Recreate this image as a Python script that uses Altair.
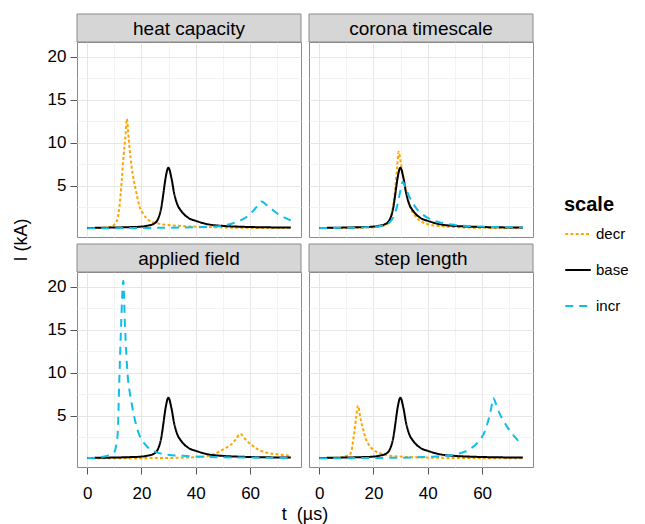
import altair as alt
import pandas as pd

# ---------------- data ----------------
panels = ["heat capacity", "corona timescale", "applied field", "step length"]
panel_row = [0, 0, 1, 1]
panel_col = [0, 1, 0, 1]
scales = ["decr", "base", "incr"]

# base run (same in every panel)
base_t = [0, 5, 10, 15, 20, 22.5, 24.7, 26, 26.5, 27.4, 28.1, 28.9, 29.9, 31, 32, 33.2, 34.5, 35.7, 37.5, 40, 42.5, 45, 50, 55, 60, 65, 70, 75]
base_I = [0.12, 0.14, 0.17, 0.21, 0.28, 0.4, 0.64, 1.1, 1.5, 2.66, 4.2, 5.97, 7.13, 5.97, 4.2, 2.86, 2.15, 1.7, 1.25, 0.95, 0.7, 0.52, 0.36, 0.28, 0.23, 0.2, 0.18, 0.16]

# heat capacity
hc_decr_t = [0, 5, 8, 10, 11.1, 11.9, 12.7, 13.4, 14.0, 14.6, 15.3, 16.0, 16.7, 18.0, 19.2, 20.4, 23, 25.3, 28, 32, 36, 40, 50, 60, 75]
hc_decr_I = [0.1, 0.13, 0.22, 0.5, 1.1, 2.7, 5.5, 8.5, 10.4, 12.8, 10.4, 8.2, 6.5, 4.4, 2.7, 1.9, 0.95, 0.7, 0.52, 0.4, 0.32, 0.27, 0.18, 0.13, 0.1]
hc_incr_t = [0, 10, 20, 30, 40, 45, 48.5, 51, 53.4, 56, 58.2, 60.5, 62.5, 64.2, 66, 68, 70.5, 72.5, 75]
hc_incr_I = [0.1, 0.1, 0.12, 0.15, 0.2, 0.26, 0.33, 0.45, 0.64, 0.95, 1.3, 1.9, 2.6, 3.2, 2.8, 2.3, 1.7, 1.35, 1.0]

# corona timescale
ct_decr_t = [0, 10, 20, 23, 24.8, 26.2, 27.4, 28.1, 28.7, 29.3, 29.9, 30.5, 31.7, 33, 35.4, 38, 40, 45, 50, 60, 75]
ct_decr_I = [0.1, 0.12, 0.2, 0.32, 0.5, 1.1, 3.05, 5.0, 7.2, 9.0, 8.0, 6.9, 5.0, 3.05, 1.5, 0.8, 0.55, 0.32, 0.22, 0.14, 0.1]
ct_incr_t = [0, 10, 20, 24, 26, 27.5, 28.8, 29.8, 30.8, 31.8, 33, 34.5, 36, 38, 40, 43, 46, 50, 55, 60, 65, 70, 75]
ct_incr_I = [0.12, 0.14, 0.25, 0.45, 0.8, 1.5, 2.8, 4.3, 5.5, 4.8, 3.9, 3.0, 2.3, 1.7, 1.3, 0.9, 0.65, 0.47, 0.35, 0.28, 0.23, 0.2, 0.18]

# applied field
af_decr_t = [0, 10, 20, 30, 38, 42, 44.2, 46.5, 48.5, 50.5, 52.7, 54.5, 56.4, 58.5, 60.7, 63, 65, 67.5, 69.9, 72.5, 75]
af_decr_I = [0.1, 0.1, 0.1, 0.12, 0.18, 0.25, 0.33, 0.55, 0.83, 1.2, 1.6, 2.2, 2.9, 2.2, 1.6, 1.1, 0.83, 0.65, 0.56, 0.45, 0.35]
af_incr_t = [0, 4, 6.4, 8.5, 10, 10.7, 11.2, 11.9, 12.5, 13.3, 13.9, 14.9, 15.8, 16.7, 18, 19.2, 20.6, 22.2, 25, 29.6, 35, 39.3, 45, 55, 65, 75]
af_incr_I = [0.12, 0.18, 0.3, 0.5, 0.8, 1.6, 2.8, 9.8, 15.6, 20.7, 15.6, 9.8, 7.5, 5.9, 4.0, 2.8, 2.0, 1.4, 0.85, 0.5, 0.38, 0.3, 0.24, 0.18, 0.15, 0.12]

# step length
sl_decr_t = [0, 5, 8, 10, 11.6, 12.8, 13.6, 14.3, 15.2, 16.2, 17.1, 18.2, 19.5, 21, 22.6, 25, 28, 32, 40, 50, 60, 75]
sl_decr_I = [0.1, 0.12, 0.2, 0.35, 0.64, 2.8, 4.8, 6.2, 4.7, 3.4, 2.4, 1.7, 1.2, 0.85, 0.64, 0.45, 0.32, 0.24, 0.16, 0.12, 0.1, 0.08]
sl_incr_t = [0, 10, 20, 30, 38, 42, 45.8, 48.5, 50.7, 53, 54.9, 57, 59.2, 61, 62.3, 63.3, 64.1, 65, 66.3, 67.8, 69.3, 70.9, 72.5, 73.9, 75]
sl_incr_I = [0.1, 0.1, 0.12, 0.15, 0.22, 0.27, 0.33, 0.43, 0.56, 0.78, 1.03, 1.5, 2.2, 3.2, 4.5, 5.8, 7.1, 6.5, 5.4, 4.5, 3.7, 3.0, 2.4, 1.9, 1.7]

series = {
    "heat capacity": {"decr": (hc_decr_t, hc_decr_I), "incr": (hc_incr_t, hc_incr_I)},
    "corona timescale": {"decr": (ct_decr_t, ct_decr_I), "incr": (ct_incr_t, ct_incr_I)},
    "applied field": {"decr": (af_decr_t, af_decr_I), "incr": (af_incr_t, af_incr_I)},
    "step length": {"decr": (sl_decr_t, sl_decr_I), "incr": (sl_incr_t, sl_incr_I)},
}

rows = []
for p, r, c in zip(panels, panel_row, panel_col):
    d = dict(series[p])
    d["base"] = (base_t, base_I)
    for s in scales:
        ts, Is = d[s]
        for t, i in zip(ts, Is):
            rows.append({"panel": p, "r": r, "c": c, "scale": s, "t": t, "I": i})
df = pd.DataFrame(rows)

colors = ["#FFA500", "#000000", "#12BDE8"]
dashes = [[3, 2.2], [1, 0], [8, 6]]

W, H = 224, 195
STRIP = 28
FONT = "Liberation Sans"

x_axis = alt.Axis(
    values=[0, 10, 20, 30, 40, 50, 60, 70],
    labelExpr="datum.value % 20 === 0 ? datum.label : ''",
    gridColor={"condition": {"test": "datum.value % 20 === 0", "value": "#e6e6e6"}, "value": "#f3f3f3"},
    tickOpacity={"condition": {"test": "datum.value % 20 === 0", "value": 1}, "value": 0},
    title=None, labelPadding=11,
)
y_axis = alt.Axis(
    values=[2.5, 5, 7.5, 10, 12.5, 15, 17.5, 20],
    labelExpr="datum.value % 5 === 0 ? datum.label : ''",
    gridColor={"condition": {"test": "datum.value % 5 === 0", "value": "#e6e6e6"}, "value": "#f3f3f3"},
    tickOpacity={"condition": {"test": "datum.value % 5 === 0", "value": 1}, "value": 0},
    title=None, labelPadding=4,
)

lines = alt.Chart().mark_line(strokeWidth=2, interpolate="monotone").encode(
    x=alt.X("t:Q", scale=alt.Scale(domain=[-3.75, 78.75], nice=False, zero=False), axis=x_axis),
    y=alt.Y("I:Q", scale=alt.Scale(domain=[-0.93, 21.73], nice=False, zero=False), axis=y_axis),
    color=alt.Color("scale:N", scale=alt.Scale(domain=scales, range=colors),
                    legend=alt.Legend(title="scale")),
    strokeDash=alt.StrokeDash("scale:N", scale=alt.Scale(domain=scales, range=dashes),
                              legend=alt.Legend(title="scale")),
    order=alt.Order("t:Q"),
)

strip_rect = alt.Chart().transform_aggregate(n="count()", groupby=["panel"]).mark_rect(
    fill="#d6d6d6", stroke="#8a8a8a", strokeWidth=1
).encode(
    x=alt.value(0), x2=alt.value(W), y=alt.value(-STRIP), y2=alt.value(0)
)
strip_text = alt.Chart().transform_aggregate(n="count()", groupby=["panel"]).mark_text(
    fontSize=19, font=FONT, color="#000000", baseline="middle", align="center"
).encode(
    x=alt.value(W / 2), y=alt.value(-STRIP / 2 + 1), text="panel:N"
)

chart = alt.layer(lines, strip_rect, strip_text, data=df).properties(
    width=W, height=H
).facet(
    row=alt.Row("r:O", header=alt.Header(
        labels=False, title="I (kA)", titleFont=FONT, titleFontSize=18,
        titleFontWeight="normal", titleColor="#000000", titlePadding=6)),
    column=alt.Column("c:O", header=alt.Header(
        labels=False, title="t \u00a0(\u00b5s)", titleOrient="bottom", titleFont=FONT,
        titleFontSize=18, titleFontWeight="normal", titleColor="#000000", titlePadding=-5)),
    spacing={"row": 7 + STRIP, "column": 8},
    bounds="flush",
).configure_view(
    stroke="#8a8a8a", strokeWidth=1
).configure_axis(
    domain=False, tickColor="#555555", tickSize=7, labelFontSize=17, labelFont=FONT,
    labelColor="#000000",
).configure_legend(
    orient="none", legendX=487, legendY=153,
    titleFont=FONT, titleFontSize=20, titleFontWeight="bold", titleColor="#000000",
    labelFont=FONT, labelFontSize=15, labelColor="#000000",
    symbolType="stroke", symbolSize=650, symbolStrokeWidth=2, rowPadding=14,
)

chart.save("out.html", embed_options={"renderer": "svg", "actions": False})
